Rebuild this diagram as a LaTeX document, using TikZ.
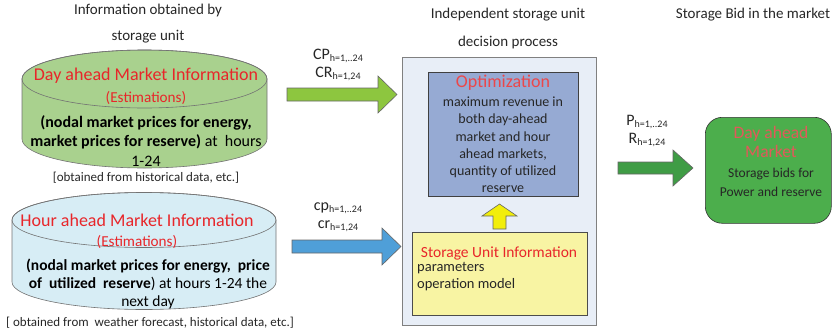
\documentclass[tikz,border=0pt]{standalone}
\usepackage{fontspec}
\setmainfont{Carlito}
\definecolor{redtxt}{HTML}{E8262A}
\definecolor{cylgreen}{HTML}{A9D18E}
\definecolor{cylblue}{HTML}{D7EDF5}
\definecolor{arrgreen}{HTML}{8DC63F}
\definecolor{arrblue}{HTML}{4F9FD8}
\definecolor{bigbox}{HTML}{E8EEF7}
\definecolor{optbox}{HTML}{96AAD3}
\definecolor{ylwbox}{HTML}{F8F4A3}
\definecolor{ylwarr}{HTML}{F2EE0A}
\definecolor{darkgreen}{HTML}{3F9C45}
\definecolor{mktgreen}{HTML}{4CAE4C}
\definecolor{mktred}{HTML}{E05A5A}
\definecolor{txtgray}{HTML}{262626}
\newcommand{\sbx}[1]{\raisebox{-2.5pt}{\fontsize{10}{10}\selectfont #1}}
\tikzset{
  cyl/.style={draw=black!55, line width=0.6pt},
  blockarrow/.style={draw=black!60, line width=0.6pt},
  lbl/.style={font=\fontsize{15}{17}\selectfont, text=txtgray, inner sep=0pt},
  note/.style={font=\fontsize{13}{15}\selectfont, text=txtgray, inner sep=0pt},
  sublbl/.style={font=\fontsize{16}{18}\selectfont, text=txtgray, inner sep=0pt},
  redtitle/.style={font=\fontsize{18}{20}\selectfont, text=redtxt, inner sep=0pt},
  redsub/.style={font=\fontsize{15.2}{17}\selectfont, text=redtxt, inner sep=0pt},
  body/.style={text=black, inner sep=0pt, align=center},
}
\begin{document}
\begin{tikzpicture}[x=1pt,y=-1pt]
\useasboundingbox (0,0) rectangle (833,335);

% titles
\node[lbl] (t1a) at (148,10) {Information obtained by};
\node[lbl] (t1b) at (148,37) {storage unit};
\node[lbl] (t2a) at (508,15) {Independent storage unit};
\node[lbl] (t2b) at (508,42) {decision process};
\node[lbl] (t3) at (753,15) {Storage Bid in the market};

% green cylinder
\filldraw[cyl, fill=cylgreen] (22,79) -- (22,139)
  arc[start angle=180, end angle=360, x radius=122.5pt, y radius=29pt]
  -- (267,79) arc[start angle=0, end angle=180, x radius=122.5pt, y radius=29pt] -- cycle;
\draw[cyl] (144.5,79) ellipse [x radius=122.5pt, y radius=29pt];
\node[redtitle] (g1) at (146,76) {Day ahead Market Information};
\node[redsub] (g2) at (146,98) {(Estimations)};
\node[body, font=\fontsize{16}{19.5}\selectfont] (g3) at (146,141)
  {\textbf{(nodal market prices for energy,}\\ \textbf{market prices for reserve)} at\ \ hours\\ 1-24};
\node[note] (g4) at (146,178) {[obtained from historical data, etc.]};

% blue cylinder
\filldraw[cyl, fill=cylblue] (12,220) -- (12,282)
  arc[start angle=180, end angle=360, x radius=132pt, y radius=27.5pt]
  -- (276,220) arc[start angle=0, end angle=180, x radius=132pt, y radius=27.5pt] -- cycle;
\draw[cyl] (144,220) ellipse [x radius=132pt, y radius=27.5pt];
\node[redtitle] (b1) at (137,220) {Hour ahead Market Information};
\node[redsub] (b2) at (137,242) {(Estimations)};
\node[body, font=\fontsize{15.5}{18}\selectfont] (b3) at (148,284)
  {\textbf{(nodal market prices for energy,\ \ price}\\ \textbf{of\ \ utilized\ \ reserve}) at hours 1-24 the\\ next day};
\node[note] (b4) at (150,323) {[ obtained from\ \ weather forecast, historical data, etc.]};

% big decision box
\draw[draw=black!50, fill=bigbox, line width=0.6pt] (402,57) rectangle (596,325);
\node[draw=black!75, fill=optbox, line width=0.6pt, minimum width=150pt, minimum height=124pt, anchor=north west, inner sep=0pt] (opt) at (428,72) {};
\node[redtitle, text=redtxt!85] (o1) at (503,83) {Optimization};
\node[body, font=\fontsize{14}{17.2}\selectfont, text=txtgray] (o2) at (503,145)
  {maximum revenue in\\ both day-ahead\\ market and hour\\ ahead markets,\\ quantity of utilized\\ reserve};

\node[draw=black!70, fill=ylwbox, line width=0.6pt, minimum width=175pt, minimum height=83pt, anchor=north west, inner sep=0pt] (sui) at (412,232) {};
\node[font=\fontsize{15.5}{17}\selectfont, text=redtxt, inner sep=0pt] (s1) at (499,253) {Storage Unit Information};
\node[font=\fontsize{14.5}{17}\selectfont, text=txtgray, inner sep=0pt, align=left, anchor=north west] (s2) at (417,262)
  {parameters\\ operation model};

% yellow up arrow
\filldraw[blockarrow, fill=ylwarr] (493,229) -- (493,216) -- (482,216) -- (499.5,204) -- (517,216) -- (506,216) -- (506,229) -- cycle;

% green arrow
\filldraw[blockarrow, fill=arrgreen] (287,88) -- (378,88) -- (378,76) -- (397,94.5) -- (378,113) -- (378,101) -- (287,101) -- cycle;
\node[sublbl] (cp1) at (338,56) {CP\sbx{h=1,..24}};
\node[sublbl] (cr1) at (338,74) {CR\sbx{h=1,24}};

% blue arrow
\filldraw[blockarrow, fill=arrblue] (292,240) -- (382,240) -- (382,228) -- (401,246.5) -- (382,265) -- (382,253) -- (292,253) -- cycle;
\node[sublbl] (cp2) at (338,208) {cp\sbx{h=1,..24}};
\node[sublbl] (cr2) at (338,226) {cr\sbx{h=1,24}};

% right arrow
\filldraw[blockarrow, fill=darkgreen] (618,162) -- (673,162) -- (673,150) -- (693,168) -- (673,186) -- (673,174) -- (618,174) -- cycle;
\node[sublbl] (p1) at (647,122) {P\sbx{h=1,..24}};
\node[sublbl] (r1) at (647,140) {R\sbx{h=1,24}};

% market box
\node[draw=black!80, fill=mktgreen, line width=0.6pt, rounded corners=17pt, minimum width=126pt, minimum height=106pt, anchor=north west, inner sep=0pt] (mkt) at (705,117) {};
\node[font=\fontsize{17.6}{19.5}\selectfont, text=mktred, align=center, inner sep=0pt] (m1) at (771,142) {Day ahead\\ Market};
\node[font=\fontsize{13.5}{19}\selectfont, text=txtgray, align=center, inner sep=0pt] (m2) at (771,182) {Storage bids for\\ Power and reserve};
\end{tikzpicture}
\end{document}
